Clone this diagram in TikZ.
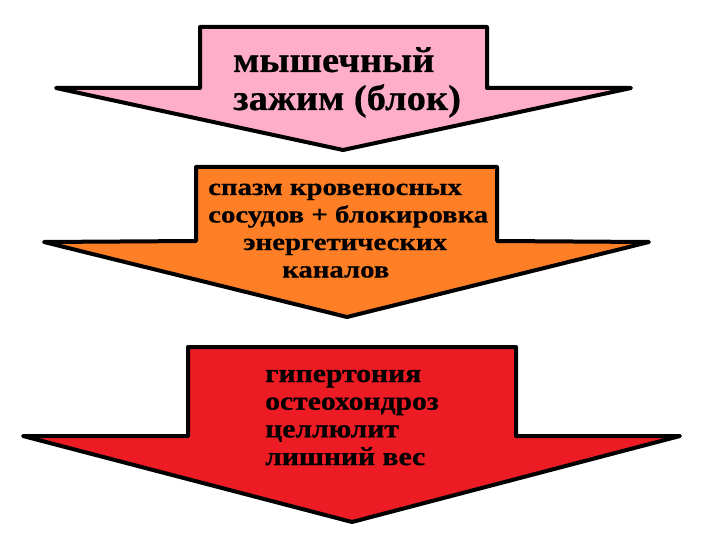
\documentclass[tikz,border=0pt]{standalone}
\usepackage{fontspec}
\setmainfont{Liberation Serif}
\newfontfamily\fontA[FakeStretch=1.07,FakeBold=0.6]{Liberation Serif}
\newfontfamily\fontB[FakeStretch=1.2,FakeBold=0.6]{Liberation Serif}
\newfontfamily\fontC[FakeStretch=1.14,FakeBold=0.6]{Liberation Serif}
\definecolor{pinkA}{RGB}{255,174,201}
\definecolor{orangeA}{RGB}{255,127,39}
\definecolor{redA}{RGB}{237,28,36}
\begin{document}
\begin{tikzpicture}[x=1pt,y=-1pt,
  arrowshape/.style={draw=black, line width=4pt, line join=round},
  lbl/.style={inner sep=0pt, anchor=base west, text=black}]
\useasboundingbox (0,0) rectangle (701,540);
\fill[white] (0,0) rectangle (701,540);
% arrow 1
\draw[arrowshape, fill=pinkA] (200,27) -- (487,27) -- (487,88) -- (631,88) -- (343,150) -- (56,88) -- (200,88) -- cycle;
% arrow 2
\draw[arrowshape, fill=orangeA] (196,167) -- (497,167) -- (497,241) -- (649,242) -- (347,317) -- (44,242) -- (196,241) -- cycle;
% arrow 3
\draw[arrowshape, fill=redA] (188,347) -- (516,347) -- (516,436) -- (680,436) -- (352,522) -- (23,436) -- (188,436) -- cycle;
\node[lbl, font=\fontA\bfseries\fontsize{36}{38}\selectfont] (t1) at (233,72)
  {\vtop{\hbox{мышечный}\hbox{зажим (блок)}}};
\node[lbl, font=\fontB\bfseries\fontsize{24}{27.5}\selectfont] (t2) at (208,195)
  {\vtop{\hbox{спазм кровеносных}\hbox{сосудов + блокировка}\hbox{\kern35pt энергетических}\hbox{\kern74pt каналов}}};
\node[lbl, font=\fontC\bfseries\fontsize{26}{27.7}\selectfont] (t3) at (265,382)
  {\vtop{\hbox{гипертония}\hbox{остеохондроз}\hbox{целлюлит}\hbox{лишний вес}}};
\end{tikzpicture}
\end{document}
